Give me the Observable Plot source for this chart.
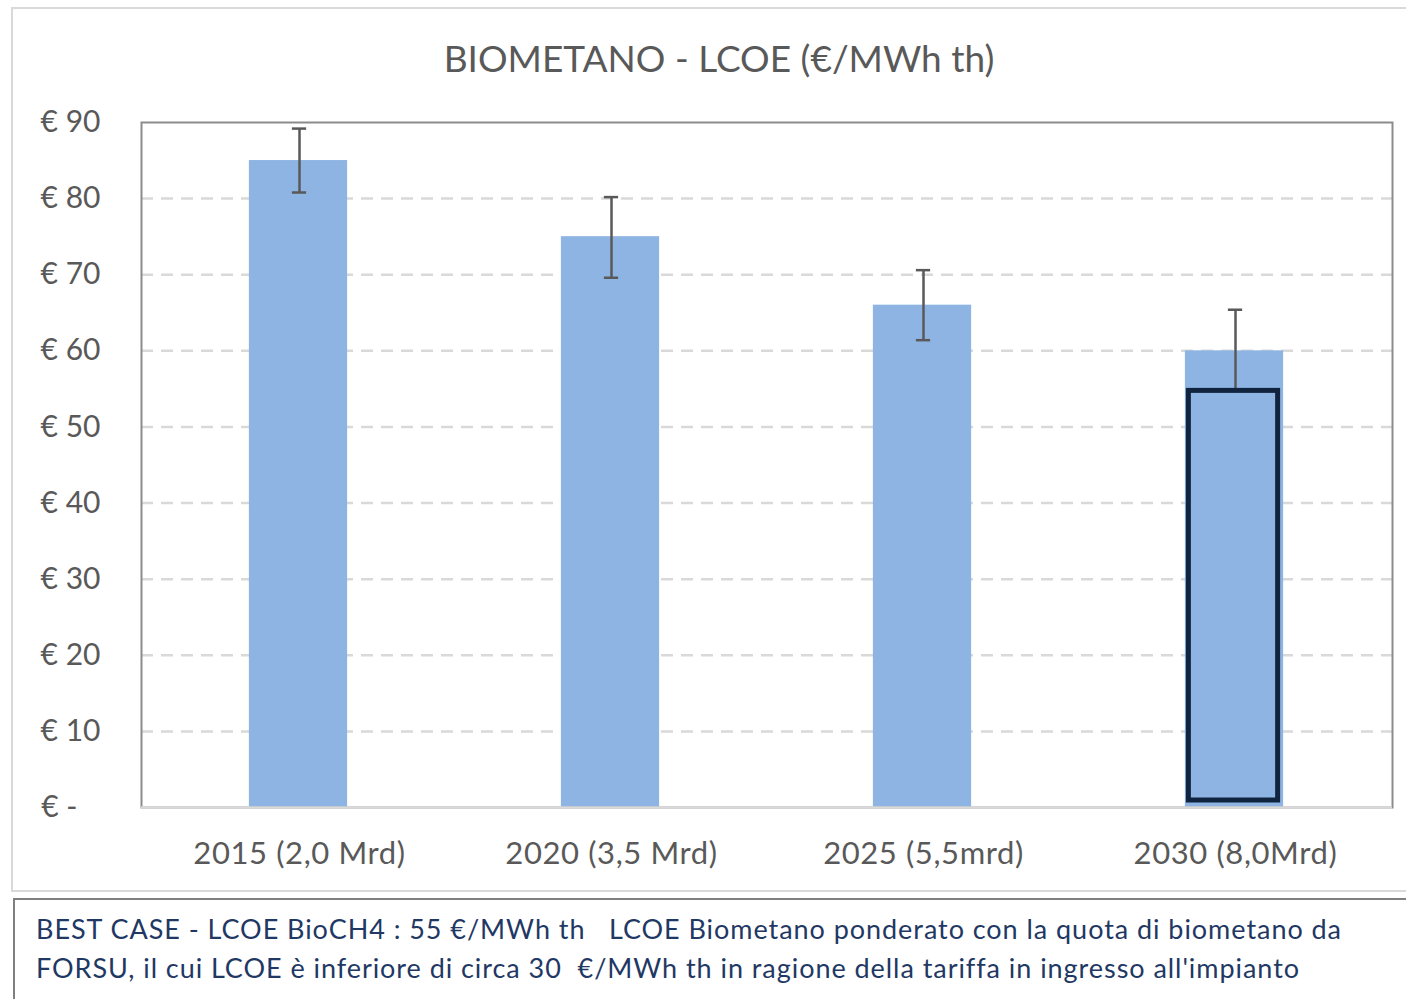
<!DOCTYPE html>
<html><head><meta charset="utf-8">
<script src="https://cdn.jsdelivr.net/npm/d3@7"></script>
<script src="https://cdn.jsdelivr.net/npm/@observablehq/plot@0.6"></script>
<style>
html,body{margin:0;padding:0;background:#fff}
body{width:1406px;height:999px;overflow:hidden;position:relative;font-family:Lato,"Open Sans",sans-serif}
#frame{position:absolute;left:11px;top:7px;width:1430px;height:885px;border:2px solid #d9d9d9;box-sizing:border-box}
#title{position:absolute;left:0;width:1438px;top:35px;text-align:center;font-size:37px;line-height:46px;color:#595959;white-space:nowrap}
#chart{position:absolute;left:0;top:0}
#note{position:absolute;left:13px;top:898px;width:1430px;height:140px;border:2px solid #7f7f7f;box-sizing:border-box;color:#1f3864;font-size:27px;letter-spacing:0.95px;line-height:39px;padding:9px 0 0 21px;white-space:pre}
.xlab text{letter-spacing:0.6px}
</style></head>
<body>
<div id="frame"></div>
<div id="title">BIOMETANO - LCOE (€/MWh th)</div>
<div id="chart"></div>
<div id="note"></div>
<script>
const categories = ["2015 (2,0 Mrd)", "2020 (3,5 Mrd)", "2025 (5,5mrd)", "2030 (8,0Mrd)"];
const values = [85, 75, 66, 60];
const errLow = [80.8, 69.6, 61.4, 54.6];
const errHigh = [89.2, 80.2, 70.6, 65.4];
const bestCaseCategory = "2030 (8,0Mrd)";
const bestCaseValue = 55;
const yTicks = [0, 10, 20, 30, 40, 50, 60, 70, 80, 90];
const noteLines = [
  "BEST CASE - LCOE BioCH4 : 55 €/MWh th   LCOE Biometano ponderato con la quota di biometano da",
  "FORSU, il cui LCOE è inferiore di circa 30  €/MWh th in ragione della tariffa in ingresso all'impianto"
];

document.getElementById("note").textContent = noteLines.join("\n");

const data = categories.map((c, i) => ({cat: c, value: values[i], lo: errLow[i], hi: errHigh[i]}));
const best = [{cat: bestCaseCategory, value: bestCaseValue}];

const W = 1406, H = 890;
const barColor = "#8eb4e3";
const bandW = (1392 - 141) / categories.length;
const barInset = (bandW - 98) / 2;
const capInset = (bandW - 15) / 2;

const chart = Plot.plot({
  width: W, height: H,
  marginLeft: 141, marginRight: 14, marginTop: 122, marginBottom: 83,
  style: {background: "transparent", fontFamily: "Lato, 'Open Sans', sans-serif", color: "#595959", overflow: "visible"},
  x: {domain: categories, padding: 0, label: null},
  y: {domain: [0, 90], label: null},
  marks: [
    Plot.ruleY(yTicks.filter(d => d > 0 && d < 90), {stroke: "#d9d9d9", strokeWidth: 2.5, strokeDasharray: "12,8", strokeOpacity: 1}),
    Plot.barY(data, {x: "cat", y: "value", fill: barColor, insetLeft: barInset - 1.5, insetRight: barInset + 0.5}),
    Plot.ruleX(data, {x: "cat", y1: "lo", y2: "hi", stroke: "#595959", strokeWidth: 2.5}),
    Plot.tickY(data, {x: "cat", y: "lo", stroke: "#595959", strokeWidth: 2.5, insetLeft: capInset, insetRight: capInset}),
    Plot.tickY(data, {x: "cat", y: "hi", stroke: "#595959", strokeWidth: 2.5, insetLeft: capInset, insetRight: capInset}),
    Plot.barY(best, {x: "cat", y: "value", fill: barColor, stroke: "#10243f", strokeWidth: 5, insetLeft: barInset + 2, insetRight: barInset + 6, insetBottom: 7, insetTop: 2}),
    Plot.frame({stroke: "#8c8c8c", strokeWidth: 2}),
    Plot.ruleY([0], {stroke: "#d9d9d9", strokeWidth: 2.5}),
    Plot.axisY({ticks: yTicks, tickSize: 0, tickPadding: 41, fontSize: 30, fill: "#595959",
      tickFormat: d => d === 0 ? "€ -\u00a0\u00a0\u00a0" : "€ " + d}),
    Plot.axisX({tickSize: 0, tickPadding: 34, fontSize: 31, fill: "#595959", className: "xlab"})
  ]
});
document.getElementById("chart").appendChild(chart);
</script>
</body></html>
